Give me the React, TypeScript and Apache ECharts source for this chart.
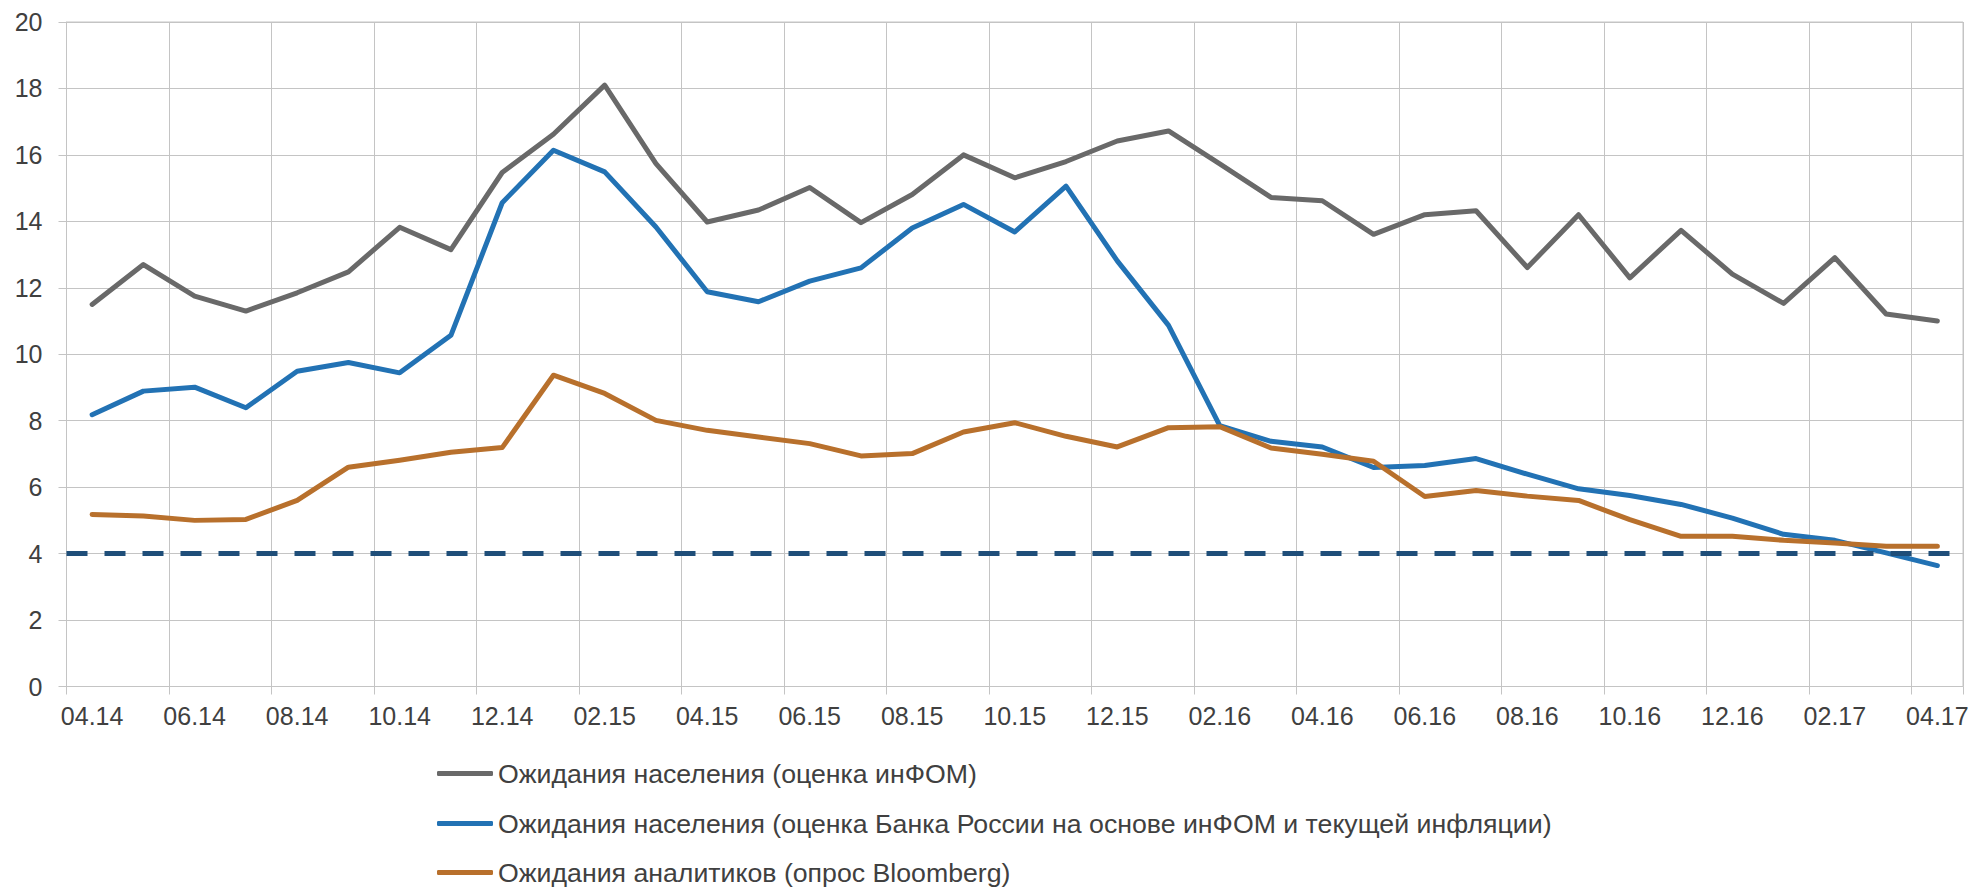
import React, { useEffect, useRef } from "react";
import * as echarts from "echarts";

const categories = [
  "04.14", "05.14", "06.14", "07.14", "08.14", "09.14", "10.14", "11.14", "12.14",
  "01.15", "02.15", "03.15", "04.15", "05.15", "06.15", "07.15", "08.15", "09.15",
  "10.15", "11.15", "12.15", "01.16", "02.16", "03.16", "04.16", "05.16", "06.16",
  "07.16", "08.16", "09.16", "10.16", "11.16", "12.16", "01.17", "02.17", "03.17", "04.17",
];

const seriesNames = [
  "Ожидания населения (оценка инФОМ)",
  "Ожидания населения (оценка Банка России на основе инФОМ и текущей инфляции)",
  "Ожидания аналитиков (опрос Bloomberg)",
];

const infomValues = [
  11.5, 12.7, 11.75, 11.3, 11.85, 12.48, 13.82, 13.15, 15.47, 16.62, 18.1, 15.74,
  13.98, 14.34, 15.02, 13.96, 14.81, 16.0, 15.31, 15.8, 16.42, 16.72, 15.73, 14.72,
  14.62, 13.61, 14.2, 14.32, 12.61, 14.2, 12.3, 13.73, 12.41, 11.53, 12.91, 11.21, 11.0,
];

const cbrValues = [
  8.18, 8.89, 9.01, 8.39, 9.49, 9.75, 9.44, 10.57, 14.56, 16.14, 15.49, 13.83,
  11.88, 11.58, 12.2, 12.6, 13.8, 14.51, 13.68, 15.06, 12.81, 10.87, 7.85, 7.38,
  7.21, 6.59, 6.65, 6.86, 6.39, 5.95, 5.75, 5.48, 5.07, 4.58, 4.4, 4.02, 3.64,
];

const bloombergValues = [
  5.18, 5.13, 5.0, 5.03, 5.6, 6.6, 6.81, 7.05, 7.19, 9.37, 8.82, 8.01,
  7.71, 7.51, 7.31, 6.94, 7.01, 7.66, 7.94, 7.53, 7.21, 7.79, 7.82, 7.18,
  6.99, 6.78, 5.72, 5.9, 5.73, 5.6, 5.02, 4.52, 4.52, 4.4, 4.32, 4.22, 4.22,
];

const targetLevel = 4;

const FONT = '"Liberation Sans", Arial, sans-serif';
const TEXT = "#404040";
const GRID = "#c4c4c4";
const COLORS = ["#696969", "#2272b4", "#b8702c"];
const LEGEND_TOPS = [760, 810, 859];

export default function App() {
  const ref = useRef<HTMLDivElement>(null);

  useEffect(() => {
    if (!ref.current) return;
    const chart = echarts.init(ref.current, null, { renderer: "svg" });
    const values = [infomValues, cbrValues, bloombergValues];
    chart.setOption({
      animation: false,
      backgroundColor: "#ffffff",
      textStyle: { fontFamily: FONT },
      grid: {
        left: 66.5,
        right: 11,
        top: 22,
        bottom: 200.5,
        show: true,
        borderColor: GRID,
        borderWidth: 1,
        containLabel: false,
      },
      legend: seriesNames.map((name, i) => ({
        orient: "horizontal",
        left: 437,
        top: LEGEND_TOPS[i],
        itemWidth: 56,
        itemHeight: 5,
        icon: "roundRect",
        data: [name],
        padding: 0,
        textStyle: { fontSize: 26.7, color: TEXT, fontFamily: FONT, lineHeight: 27 },
      })),
      xAxis: {
        type: "category",
        data: categories,
        boundaryGap: true,
        axisLine: { show: true, lineStyle: { color: GRID, width: 1 } },
        axisTick: { show: true, interval: 1, length: 8, lineStyle: { color: GRID } },
        axisLabel: { interval: 1, fontSize: 25, color: TEXT, margin: 17, fontFamily: FONT },
        splitLine: { show: true, interval: 1, lineStyle: { color: GRID, width: 1 } },
      },
      yAxis: {
        type: "value",
        min: 0,
        max: 20,
        interval: 2,
        axisLine: { show: true, lineStyle: { color: GRID, width: 1 } },
        axisTick: { show: true, length: 8, lineStyle: { color: GRID } },
        axisLabel: { fontSize: 25, color: TEXT, margin: 24, fontFamily: FONT },
        splitLine: { show: true, lineStyle: { color: GRID, width: 1 } },
      },
      series: [
        ...seriesNames.map((name, i) => ({
          name,
          type: "line",
          data: values[i],
          symbol: "none",
          color: COLORS[i],
          lineStyle: { color: COLORS[i], width: 5, cap: "round", join: "round" },
          z: 2 + i,
        })),
        {
          name: "target",
          type: "line",
          data: [],
          z: 10,
          markLine: {
            silent: true,
            symbol: "none",
            label: { show: false },
            lineStyle: { color: "#1f4e79", width: 5, type: [21, 17] },
            data: [{ yAxis: targetLevel }],
          },
        },
      ],
    });
    return () => chart.dispose();
  }, []);

  return (
    <div
      ref={ref}
      style={{ position: "fixed", left: 0, top: 0, width: 1974, height: 887, background: "#fff" }}
    />
  );
}
